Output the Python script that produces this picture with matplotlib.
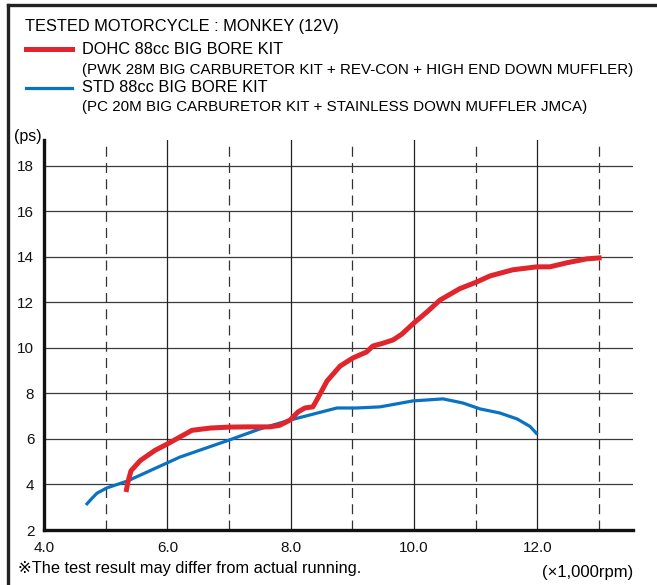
import matplotlib
matplotlib.use("Agg")
from matplotlib import pyplot as plt
from matplotlib.lines import Line2D

plt.rcParams['font.family'] = ['Liberation Sans', 'DejaVu Sans']

# power curves (rpm x1000, ps)
dohc_rpm = [5.33, 5.36, 5.41, 5.56, 5.80, 6.0, 6.2, 6.4, 6.7, 7.0, 7.3, 7.66, 7.82,
            7.99, 8.12, 8.23, 8.36, 8.44, 8.59, 8.80, 9.01, 9.23, 9.33, 9.49, 9.66,
            9.8, 10.0, 10.21, 10.42, 10.74, 11.02, 11.23, 11.6, 11.99, 12.2, 12.48,
            12.8, 13.04]
dohc_ps = [3.67, 4.1, 4.6, 5.05, 5.5, 5.78, 6.08, 6.38, 6.48, 6.52, 6.53, 6.53, 6.6,
           6.83, 7.19, 7.36, 7.41, 7.8, 8.55, 9.2, 9.56, 9.82, 10.08, 10.2, 10.35,
           10.6, 11.1, 11.58, 12.1, 12.6, 12.9, 13.16, 13.43, 13.56, 13.56, 13.74,
           13.91, 13.96]

std_rpm = [4.68, 4.78, 4.86, 5.02, 5.35, 6.2, 7.01, 7.5, 7.99, 8.75, 9.07, 9.45,
           9.98, 10.47, 10.79, 11.07, 11.39, 11.67, 11.88, 12.0]
std_ps = [3.1, 3.4, 3.62, 3.85, 4.15, 5.2, 5.96, 6.44, 6.83, 7.36, 7.36, 7.41,
          7.67, 7.76, 7.58, 7.32, 7.14, 6.88, 6.55, 6.2]

y_ticks = [2, 4, 6, 8, 10, 12, 14, 16, 18]
x_ticks = [4.0, 6.0, 8.0, 10.0, 12.0]
x_dashed = [5, 7, 9, 11, 13]

RED = '#e0252c'
BLUE = '#0a72c2'

fig = plt.figure(figsize=(6.57, 5.85), dpi=100)
ax = fig.add_axes([0.067, 0.094, 0.8965, 0.667])

for y in y_ticks[1:]:
    ax.axhline(y, color='#3a3a3a', lw=0.9, zorder=1)
for x in x_ticks[1:]:
    ax.axvline(x, color='#222222', lw=0.9, zorder=1)
for x in x_dashed:
    ax.axvline(x, color='#333333', lw=0.9, ls=(0, (8, 5)), zorder=1)

ax.plot(std_rpm, std_ps, color=BLUE, lw=2.3, solid_capstyle='butt', zorder=3)
ax.plot(dohc_rpm, dohc_ps, color=RED, lw=3.6, solid_capstyle='butt', zorder=4)

ax.set_xlim(4.0, 13.55)
ax.set_ylim(2, 19.14)
ax.set_xticks(x_ticks)
ax.set_xticklabels(['%.1f' % v for v in x_ticks])
ax.set_yticks(y_ticks)
ax.tick_params(length=0, labelsize=11, colors='#111111')
ax.tick_params(axis='y', pad=7)
ax.tick_params(axis='x', pad=8)
for s in ['top', 'right']:
    ax.spines[s].set_visible(False)
for s in ['left', 'bottom']:
    ax.spines[s].set_linewidth(2.4)
    ax.spines[s].set_color('#111111')

# outer frame (left and top only)
fig.lines.append(Line2D([8 / 657, 8 / 657], [0, 1 - 5 / 585], transform=fig.transFigure,
                        color='#222222', lw=2.4))
fig.lines.append(Line2D([8 / 657, 1], [1 - 5 / 585, 1 - 5 / 585], transform=fig.transFigure,
                        color='#222222', lw=2.4))

def px(x, y):
    return x / 657, 1 - y / 585

fig.text(*px(25, 27), 'TESTED MOTORCYCLE : MONKEY (12V)', fontsize=11.8, va='center')
fig.lines.append(Line2D([26 / 657, 72 / 657], [1 - 49 / 585] * 2, transform=fig.transFigure,
                        color=RED, lw=3.6))
fig.text(*px(82, 49), 'DOHC 88cc BIG BORE KIT', fontsize=11.8, va='center')
fig.text(*px(82, 70), '(PWK 28M BIG CARBURETOR KIT + REV-CON + HIGH END DOWN MUFFLER)',
         fontsize=10.9, va='center')
fig.lines.append(Line2D([26 / 657, 72 / 657], [1 - 88 / 585] * 2, transform=fig.transFigure,
                        color=BLUE, lw=2.3))
fig.text(*px(82, 88), 'STD 88cc BIG BORE KIT', fontsize=11.8, va='center')
fig.text(*px(82, 107), '(PC 20M BIG CARBURETOR KIT + STAINLESS DOWN MUFFLER JMCA)',
         fontsize=10.9, va='center')

fig.text(*px(14, 136), '(ps)', fontsize=11.5, va='center')
fig.text(*px(18, 569), '\u203bThe test result may differ from actual running.', fontsize=11.8,
         va='center')
fig.text(*px(633, 572), '(\u00d71,000rpm)', fontsize=12, va='center', ha='right')

fig.savefig('out.png', dpi=100)
